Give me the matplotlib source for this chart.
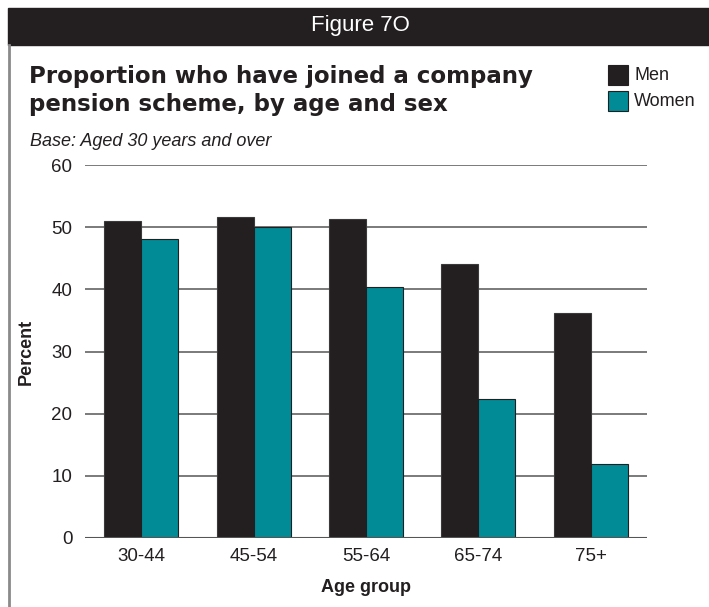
import numpy as np
import matplotlib.pyplot as plt
from matplotlib.patches import Rectangle
from matplotlib.lines import Line2D

plt.rcParams['font.family'] = ['Liberation Sans', 'DejaVu Sans']

age_groups = ['30-44', '45-54', '55-64', '65-74', '75+']
men = [51.0, 51.7, 51.3, 44.1, 36.2]
women = [48.1, 50.0, 40.4, 22.4, 11.9]
y_ticks = [0, 10, 20, 30, 40, 50, 60]

dark = '#231f20'
teal = '#008b96'

fig = plt.figure(figsize=(7.09, 6.07), dpi=100)
W, H = 709, 607

def fx(px):
    return px / W

def fy(py):
    return 1 - py / H

# header bar and left frame line
fig.patches.append(Rectangle((fx(8), fy(45)), 1 - fx(8), fy(8) - fy(45),
                             transform=fig.transFigure, color=dark, zorder=0))
fig.lines.append(Line2D([fx(8.5), fx(8.5)], [0, fy(45)], transform=fig.transFigure,
                        color='#8a8a8a', lw=2))
fig.text(fx(360), fy(26), 'Figure 7O', color='white', fontsize=16,
         ha='center', va='center')

fig.text(fx(29), fy(76), 'Proportion who have joined a company', fontsize=16.5,
         fontweight='bold', family='DejaVu Sans', color=dark, va='center')
fig.text(fx(29), fy(104), 'pension scheme, by age and sex', fontsize=16.5,
         fontweight='bold', family='DejaVu Sans', color=dark, va='center')
fig.text(fx(30), fy(142), 'Base: Aged 30 years and over', fontsize=13,
         style='italic', color=dark, va='center')

# legend
for i, (lab, col) in enumerate([('Men', dark), ('Women', teal)]):
    y0 = 65 + i * 26
    fig.patches.append(Rectangle((fx(608), fy(y0 + 20)), fx(20), fy(y0) - fy(y0 + 20),
                                 transform=fig.transFigure, facecolor=col,
                                 edgecolor=dark, lw=0.8))
    fig.text(fx(634), fy(y0 + 10), lab, fontsize=13, color=dark, va='center')

ax = fig.add_axes([fx(85), fy(538), fx(647) - fx(85), fy(165) - fy(538)])

x = np.arange(len(age_groups))
w = 0.33
ax.bar(x - w / 2, men, width=w, color=dark, edgecolor='#3a3a3a', lw=0.8, zorder=3)
ax.bar(x + w / 2, women, width=w, color=teal, edgecolor=dark, lw=0.8, zorder=3)

ax.set_xlim(-0.5, len(age_groups) - 0.5)
ax.set_ylim(0, 60)
ax.set_yticks(y_ticks)
ax.set_xticks(x)
ax.set_xticklabels(age_groups)
ax.tick_params(length=0, labelsize=13.5, colors=dark)
ax.tick_params(axis='x', pad=7)
ax.tick_params(axis='y', pad=9)
for t in y_ticks[1:]:
    ax.axhline(t, color='#7a7a7a', lw=1.4, zorder=1)
ax.axhline(0, color='#555555', lw=1.5, zorder=4)
for s in ax.spines.values():
    s.set_visible(False)

ax.set_ylabel('Percent', fontsize=13, fontweight='bold', color=dark, labelpad=12)
ax.set_xlabel('Age group', fontsize=13, fontweight='bold', color=dark, labelpad=10)

fig.savefig('out.png', dpi=100)
